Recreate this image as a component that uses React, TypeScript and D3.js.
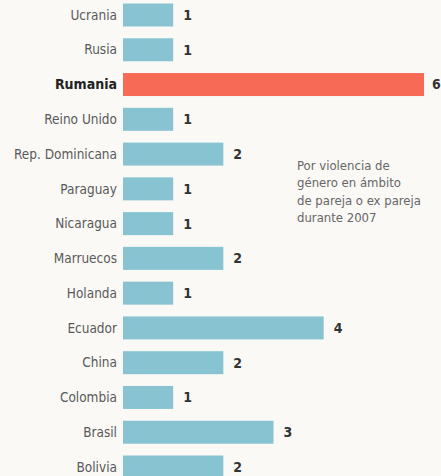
import React from "react";
import * as d3 from "d3";

const countries = [
  "Ucrania", "Rusia", "Rumania", "Reino Unido", "Rep. Dominicana", "Paraguay",
  "Nicaragua", "Marruecos", "Holanda", "Ecuador", "China", "Colombia", "Brasil", "Bolivia",
];
const values = [1, 1, 6, 1, 2, 1, 1, 2, 1, 4, 2, 1, 3, 2];
const highlight = "Rumania";
const noteLines = ["Por violencia de", "género en ámbito", "de pareja o ex pareja", "durante 2007"];

const W = 441, H = 476;

export default function App() {
  const y = d3.scalePoint<string>().domain(countries).range([15, 467]);
  const x = d3.scaleLinear().domain([0, 6]).range([123, 424]);
  const barH = 23;
  const font = "'Liberation Sans Narrow', 'DejaVu Sans Condensed', 'Roboto', sans-serif";
  return (
    <svg width={W} height={H} style={{ position: "absolute", left: 0, top: 0 }} fontFamily={font}>
      <rect x={0} y={0} width={W} height={H} fill="#faf9f6" />
      {countries.map((c, i) => {
        const cy = y(c)!;
        const hi = c === highlight;
        return (
          <g key={c}>
            <rect x={x(0)} y={cy - barH / 2} width={x(values[i]) - x(0)} height={barH}
              fill={hi ? "#f76b56" : "#88c3d2"} />
            <text x={117} y={cy} dy="0.35em" textAnchor="end" fontSize={hi ? 14 : 13.5}
              fontWeight={hi ? "bold" : "normal"} fill={hi ? "#222" : "#595959"}>{c}</text>
            <text x={x(values[i]) + (hi ? 8 : 10)} y={cy} dy="0.35em" fontSize={14} fontWeight="bold"
              fill="#333" fontFamily="'DejaVu Sans Condensed', sans-serif">{values[i]}</text>
          </g>
        );
      })}
      <text x={297} y={170} fontSize={13} fill="#666">
        {noteLines.map((l, i) => (
          <tspan key={i} x={297} dy={i === 0 ? 0 : 17.3}>{l}</tspan>
        ))}
      </text>
    </svg>
  );
}
